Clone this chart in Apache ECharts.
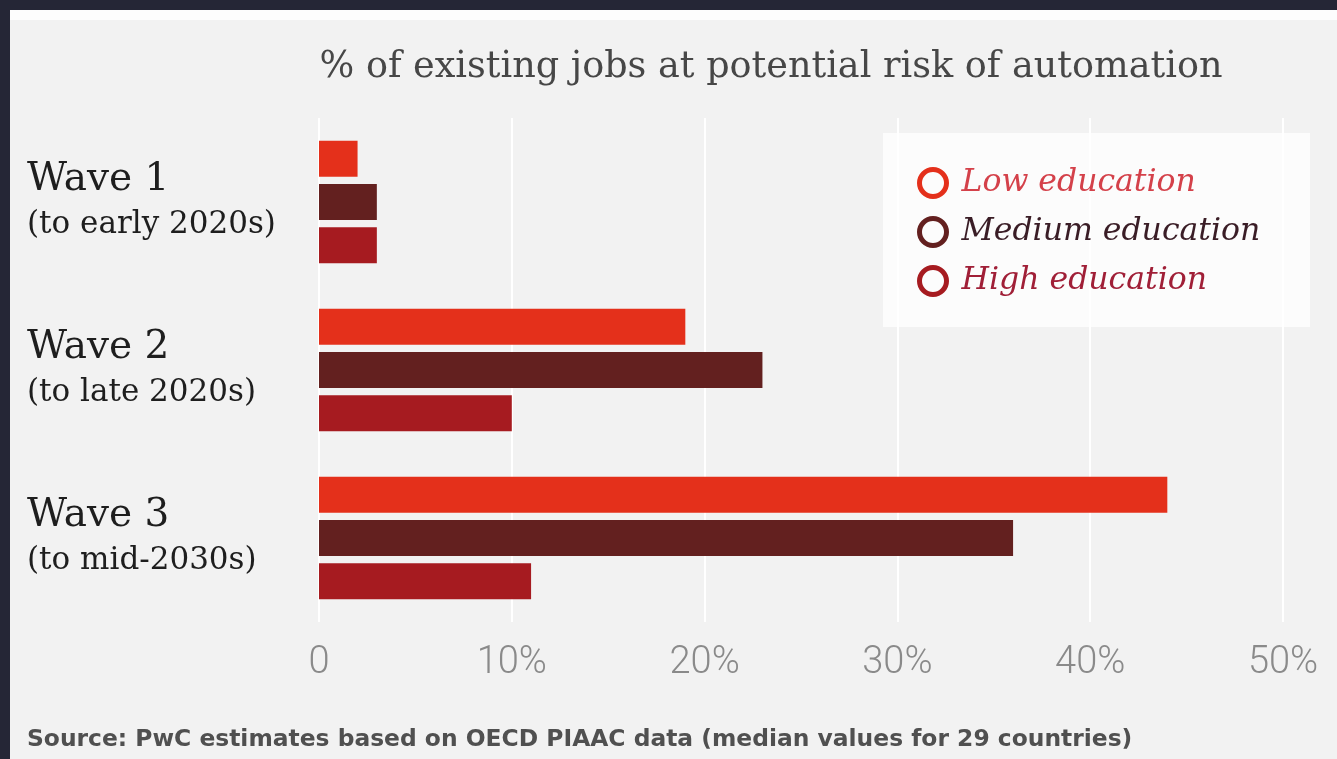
<!DOCTYPE html>
<html>
<head>
<meta charset="utf-8">
<script src="https://cdn.jsdelivr.net/npm/echarts@6/dist/echarts.min.js"></script>
<style>
html,body{margin:0;padding:0;background:#252636;}
#chart{width:1337px;height:759px;}
</style>
</head>
<body>
<div id="chart"></div>
<script>
const categories = ['Wave 1', 'Wave 2', 'Wave 3'];
const periods = ['(to early 2020s)', '(to late 2020s)', '(to mid-2030s)'];
const seriesNames = ['Low education', 'Medium education', 'High education'];
const lowEdu = [2, 19, 44];
const mediumEdu = [3, 23, 36];
const highEdu = [3, 10, 11];
const xTicks = [0, 10, 20, 30, 40, 50];

const barColors = ['#e4301b', '#63201f', '#a61b20'];
const legendTextColors = ['#d4414a', '#3a1d26', '#a01f37'];
const values = [lowEdu, mediumEdu, highEdu];

const chart = echarts.init(document.getElementById('chart'));
chart.setOption({
  backgroundColor: '#252636',
  animation: false,
  graphic: [
    { type: 'rect', z: -10, shape: { x: 10, y: 10, width: 1327, height: 749 }, style: { fill: '#f2f2f2' } },
    { type: 'rect', z: -9, shape: { x: 10, y: 10, width: 1327, height: 10 }, style: { fill: '#fdfdfd' } },
    { type: 'rect', z: -5, shape: { x: 883, y: 133, width: 427, height: 194 }, style: { fill: '#fcfcfc' } },
    { type: 'text', left: 27, top: 728, style: { text: 'Source: PwC estimates based on OECD PIAAC data (median values for 29 countries)', font: 'bold 23.4px "DejaVu Sans"', fill: '#505050' } }
  ],
  title: {
    text: '% of existing jobs at potential risk of automation',
    left: 766, top: 44, textAlign: 'center',
    textStyle: { fontFamily: 'DejaVu Serif', fontSize: 36.6, fontWeight: 'normal', color: '#474747' }
  },
  legend: {
    orient: 'vertical',
    left: 912, top: 162,
    itemWidth: 27, itemHeight: 27, itemGap: 17,
    icon: 'circle',
    data: seriesNames.map((n, i) => ({
      name: n,
      itemStyle: { color: 'transparent', borderColor: barColors[i], borderWidth: 5 },
      textStyle: { color: legendTextColors[i] }
    })),
    textStyle: { fontFamily: 'DejaVu Serif', fontStyle: 'italic', fontSize: 31.5, padding: [0, 0, 0, 10] }
  },
  grid: { left: 319, right: 54, top: 118, bottom: 137 },
  xAxis: {
    type: 'value', min: 0, max: 50, interval: 10,
    axisLine: { show: false }, axisTick: { show: false },
    splitLine: { show: true, lineStyle: { color: '#ffffff', width: 2 } },
    axisLabel: {
      margin: 22,
      formatter: v => (v === 0 ? '0' : v + '%'),
      customValues: xTicks,
      fontFamily: 'Roboto', fontWeight: 300, fontSize: 38, color: '#8a8a8a'
    }
  },
  yAxis: {
    type: 'category', inverse: true, data: categories,
    axisLine: { show: false }, axisTick: { show: false },
    axisLabel: {
      align: 'left', margin: 292,
      formatter: (v, i) => '{a|' + v + '}\n{b|' + periods[i] + '}',
      rich: {
        a: { fontFamily: 'DejaVu Serif', fontSize: 39, color: '#1e1e1e', lineHeight: 46 },
        b: { fontFamily: 'DejaVu Serif', fontSize: 31, color: '#1e1e1e', lineHeight: 44 }
      }
    }
  },
  series: seriesNames.map((n, i) => ({
    name: n, type: 'bar', data: values[i],
    barWidth: 36, barGap: '20%',
    itemStyle: { color: barColors[i] }
  }))
});
</script>
</body>
</html>
